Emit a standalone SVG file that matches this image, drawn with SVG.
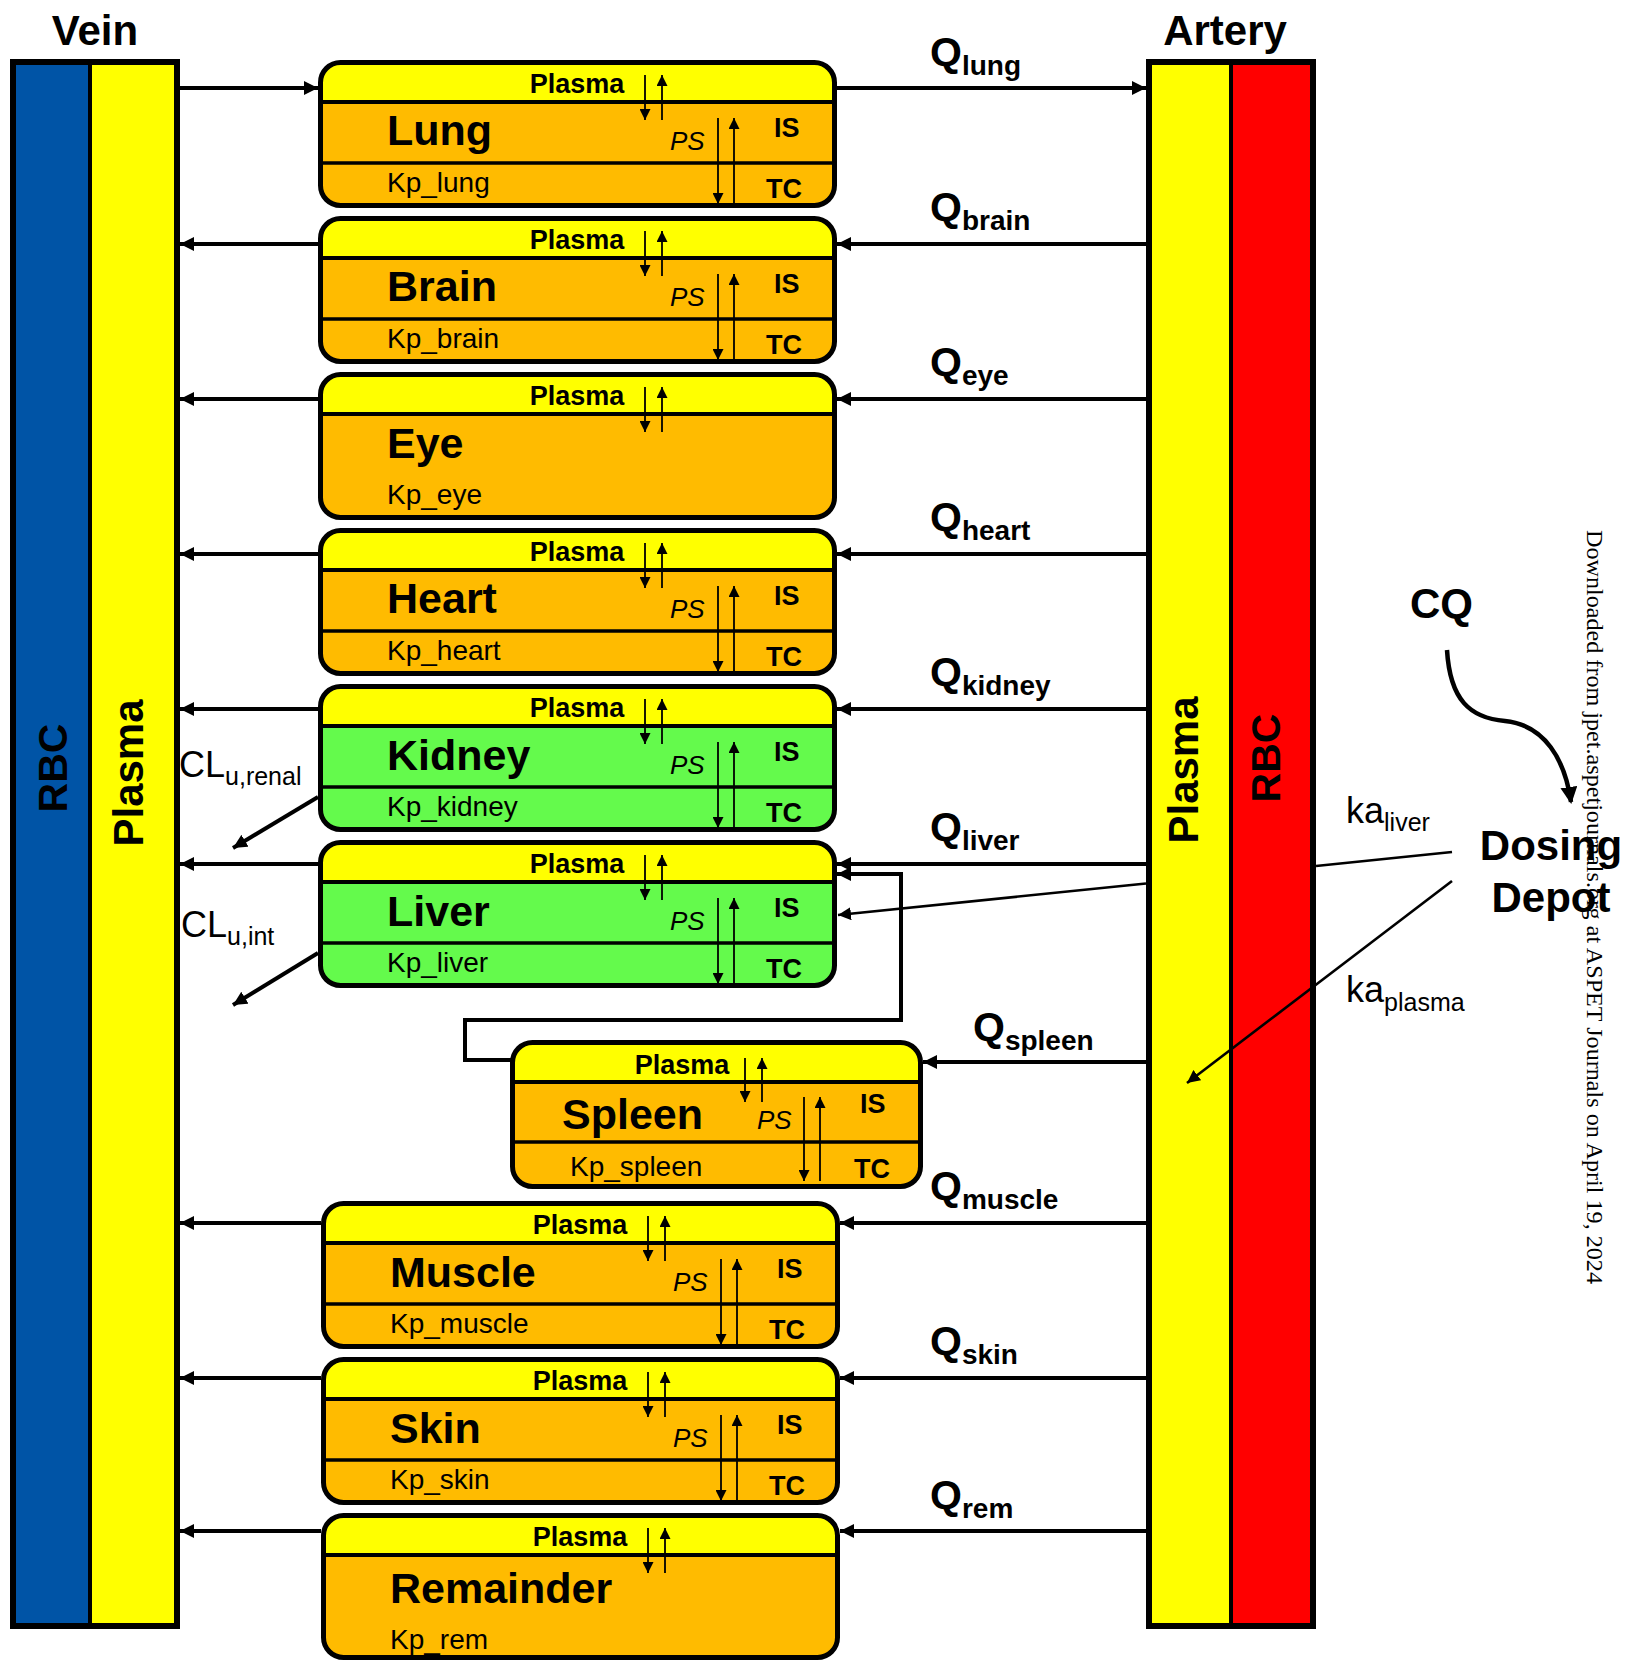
<svg xmlns="http://www.w3.org/2000/svg" width="1628" height="1661" viewBox="0 0 1628 1661">
<defs>
<style>
text{font-family:"Liberation Sans",Arial,sans-serif;fill:#000}
.bx{fill:none;stroke:#000;stroke-width:5}
.org{fill:#FFBB00}
.grn{fill:#64FA4C}
.yel{fill:#FFFF00}
.dv{stroke:#000;stroke-width:4}
.dv2{stroke:#000;stroke-width:3.5}
.tpl{font-weight:bold;font-size:27px;text-anchor:middle}
.tt{font-weight:bold;font-size:43px}
.kp{font-size:28px}
.ps{font-style:italic;font-size:26px}
.is{font-weight:bold;font-size:27px}
.sa{stroke:#000;stroke-width:1.8;marker-end:url(#sm)}
.cn{fill:none;stroke:#000;stroke-width:4;marker-end:url(#ah)}
.ka{fill:none;stroke:#000;stroke-width:2.6}
.kaa{fill:none;stroke:#000;stroke-width:2.6;marker-end:url(#ma)}
.big{font-weight:bold;font-size:42px}
.q{font-weight:bold;font-size:41px}
.qs{font-size:28px}
.vt{font-weight:bold;text-anchor:middle}
</style>
<marker id="ah" markerUnits="userSpaceOnUse" markerWidth="14" markerHeight="14" refX="14" refY="7" orient="auto"><path d="M0,0 L14,7 L0,14 z" fill="#000"/></marker>
<marker id="sm" markerUnits="userSpaceOnUse" markerWidth="11" markerHeight="11" refX="11" refY="5.5" orient="auto"><path d="M0,0 L11,5.5 L0,11 z" fill="#000"/></marker>
<marker id="ma" markerUnits="userSpaceOnUse" markerWidth="13" markerHeight="13" refX="13" refY="6.5" orient="auto"><path d="M0,0 L13,6.5 L0,13 z" fill="#000"/></marker>
<marker id="ch" markerUnits="userSpaceOnUse" markerWidth="17" markerHeight="17" refX="15" refY="8.5" orient="auto"><path d="M0,0 L17,8.5 L0,17 z" fill="#000"/></marker>
</defs>
<rect width="1628" height="1661" fill="#fff"/>

<g id="vein">
<text class="big" x="95" y="45" text-anchor="middle">Vein</text>
<rect x="13" y="62" width="77" height="1564" fill="#0054A6"/>
<rect x="90" y="62" width="87" height="1564" fill="#FFFF00"/>
<line x1="90" y1="62" x2="90" y2="1626" stroke="#000" stroke-width="4"/>
<rect x="13" y="62" width="164" height="1564" fill="none" stroke="#000" stroke-width="6"/>
<text class="vt" font-size="41" transform="translate(52,768) rotate(-90)" x="0" y="15">RBC</text>
<text class="vt" font-size="42" transform="translate(128,773) rotate(-90)" x="0" y="15">Plasma</text>
</g>

<g id="artery">
<text class="big" x="1225" y="45" text-anchor="middle">Artery</text>
<rect x="1149" y="62" width="82" height="1564" fill="#FFFF00"/>
<rect x="1231" y="62" width="82" height="1564" fill="#FF0000"/>
<line x1="1231" y1="62" x2="1231" y2="1626" stroke="#000" stroke-width="4"/>
<rect x="1149" y="62" width="164" height="1564" fill="none" stroke="#000" stroke-width="6"/>
<text class="vt" font-size="42" transform="translate(1183,770) rotate(-90)" x="0" y="15">Plasma</text>
<text class="vt" font-size="41" transform="translate(1265,758) rotate(-90)" x="0" y="15">RBC</text>
</g>

<g id="lung" transform="translate(318,60)">
<rect x="2.5" y="2.5" width="514" height="143" rx="20" class="org"/>
<path d="M2.5,42 V22.5 A20,20 0 0 1 22.5,2.5 H496.5 A20,20 0 0 1 516.5,22.5 V42 Z" class="yel"/>
<line x1="2.5" y1="42" x2="516.5" y2="42" class="dv"/>
<line x1="2.5" y1="103" x2="516.5" y2="103" class="dv2"/>
<rect x="2.5" y="2.5" width="514" height="143" rx="20" class="bx"/>
<text class="tpl" x="259" y="33">Plasma</text>
<line x1="327" y1="15" x2="327" y2="60" class="sa"/><line x1="344" y1="60" x2="344" y2="15" class="sa"/>
<text class="tt" x="69" y="85">Lung</text>
<text class="kp" x="69" y="132">Kp_lung</text>
<text class="ps" x="352" y="90">PS</text>
<line x1="400" y1="58" x2="400" y2="144" class="sa"/><line x1="416" y1="144" x2="416" y2="58" class="sa"/>
<text class="is" x="456" y="77">IS</text>
<text class="is" x="448" y="138">TC</text>
</g>

<g id="brain" transform="translate(318,216)">
<rect x="2.5" y="2.5" width="514" height="143" rx="20" class="org"/>
<path d="M2.5,42 V22.5 A20,20 0 0 1 22.5,2.5 H496.5 A20,20 0 0 1 516.5,22.5 V42 Z" class="yel"/>
<line x1="2.5" y1="42" x2="516.5" y2="42" class="dv"/>
<line x1="2.5" y1="103" x2="516.5" y2="103" class="dv2"/>
<rect x="2.5" y="2.5" width="514" height="143" rx="20" class="bx"/>
<text class="tpl" x="259" y="33">Plasma</text>
<line x1="327" y1="15" x2="327" y2="60" class="sa"/><line x1="344" y1="60" x2="344" y2="15" class="sa"/>
<text class="tt" x="69" y="85">Brain</text>
<text class="kp" x="69" y="132">Kp_brain</text>
<text class="ps" x="352" y="90">PS</text>
<line x1="400" y1="58" x2="400" y2="144" class="sa"/><line x1="416" y1="144" x2="416" y2="58" class="sa"/>
<text class="is" x="456" y="77">IS</text>
<text class="is" x="448" y="138">TC</text>
</g>

<g id="eye" transform="translate(318,372)">
<rect x="2.5" y="2.5" width="514" height="143" rx="20" class="org"/>
<path d="M2.5,42 V22.5 A20,20 0 0 1 22.5,2.5 H496.5 A20,20 0 0 1 516.5,22.5 V42 Z" class="yel"/>
<line x1="2.5" y1="42" x2="516.5" y2="42" class="dv"/>
<rect x="2.5" y="2.5" width="514" height="143" rx="20" class="bx"/>
<text class="tpl" x="259" y="33">Plasma</text>
<line x1="327" y1="15" x2="327" y2="60" class="sa"/><line x1="344" y1="60" x2="344" y2="15" class="sa"/>
<text class="tt" x="69" y="86">Eye</text>
<text class="kp" x="69" y="132">Kp_eye</text>
</g>

<g id="heart" transform="translate(318,528)">
<rect x="2.5" y="2.5" width="514" height="143" rx="20" class="org"/>
<path d="M2.5,42 V22.5 A20,20 0 0 1 22.5,2.5 H496.5 A20,20 0 0 1 516.5,22.5 V42 Z" class="yel"/>
<line x1="2.5" y1="42" x2="516.5" y2="42" class="dv"/>
<line x1="2.5" y1="103" x2="516.5" y2="103" class="dv2"/>
<rect x="2.5" y="2.5" width="514" height="143" rx="20" class="bx"/>
<text class="tpl" x="259" y="33">Plasma</text>
<line x1="327" y1="15" x2="327" y2="60" class="sa"/><line x1="344" y1="60" x2="344" y2="15" class="sa"/>
<text class="tt" x="69" y="85">Heart</text>
<text class="kp" x="69" y="132">Kp_heart</text>
<text class="ps" x="352" y="90">PS</text>
<line x1="400" y1="58" x2="400" y2="144" class="sa"/><line x1="416" y1="144" x2="416" y2="58" class="sa"/>
<text class="is" x="456" y="77">IS</text>
<text class="is" x="448" y="138">TC</text>
</g>

<g id="kidney" transform="translate(318,684)">
<rect x="2.5" y="2.5" width="514" height="143" rx="20" class="grn"/>
<path d="M2.5,42 V22.5 A20,20 0 0 1 22.5,2.5 H496.5 A20,20 0 0 1 516.5,22.5 V42 Z" class="yel"/>
<line x1="2.5" y1="42" x2="516.5" y2="42" class="dv"/>
<line x1="2.5" y1="103" x2="516.5" y2="103" class="dv2"/>
<rect x="2.5" y="2.5" width="514" height="143" rx="20" class="bx"/>
<text class="tpl" x="259" y="33">Plasma</text>
<line x1="327" y1="15" x2="327" y2="60" class="sa"/><line x1="344" y1="60" x2="344" y2="15" class="sa"/>
<text class="tt" x="69" y="86">Kidney</text>
<text class="kp" x="69" y="132">Kp_kidney</text>
<text class="ps" x="352" y="90">PS</text>
<line x1="400" y1="58" x2="400" y2="144" class="sa"/><line x1="416" y1="144" x2="416" y2="58" class="sa"/>
<text class="is" x="456" y="77">IS</text>
<text class="is" x="448" y="138">TC</text>
</g>

<g id="liver" transform="translate(318,840)">
<rect x="2.5" y="2.5" width="514" height="143" rx="20" class="grn"/>
<path d="M2.5,42 V22.5 A20,20 0 0 1 22.5,2.5 H496.5 A20,20 0 0 1 516.5,22.5 V42 Z" class="yel"/>
<line x1="2.5" y1="42" x2="516.5" y2="42" class="dv"/>
<line x1="2.5" y1="103" x2="516.5" y2="103" class="dv2"/>
<rect x="2.5" y="2.5" width="514" height="143" rx="20" class="bx"/>
<text class="tpl" x="259" y="33">Plasma</text>
<line x1="327" y1="15" x2="327" y2="60" class="sa"/><line x1="344" y1="60" x2="344" y2="15" class="sa"/>
<text class="tt" x="69" y="86">Liver</text>
<text class="kp" x="69" y="132">Kp_liver</text>
<text class="ps" x="352" y="90">PS</text>
<line x1="400" y1="58" x2="400" y2="144" class="sa"/><line x1="416" y1="144" x2="416" y2="58" class="sa"/>
<text class="is" x="456" y="77">IS</text>
<text class="is" x="448" y="138">TC</text>
</g>

<g id="spleen" transform="translate(510,1040)">
<rect x="2.5" y="2.5" width="408" height="144" rx="20" class="org"/>
<path d="M2.5,42 V22.5 A20,20 0 0 1 22.5,2.5 H390.5 A20,20 0 0 1 410.5,22.5 V42 Z" class="yel"/>
<line x1="2.5" y1="42" x2="410.5" y2="42" class="dv"/>
<line x1="2.5" y1="102" x2="410.5" y2="102" class="dv2"/>
<rect x="2.5" y="2.5" width="408" height="144" rx="20" class="bx"/>
<text class="tpl" x="172" y="34">Plasma</text>
<line x1="235" y1="18" x2="235" y2="62" class="sa"/><line x1="252" y1="62" x2="252" y2="18" class="sa"/>
<text class="tt" x="52" y="89">Spleen</text>
<text class="kp" x="60" y="136">Kp_spleen</text>
<text class="ps" x="247" y="89">PS</text>
<line x1="294" y1="57" x2="294" y2="141" class="sa"/><line x1="310" y1="141" x2="310" y2="57" class="sa"/>
<text class="is" x="350" y="73">IS</text>
<text class="is" x="344" y="138">TC</text>
</g>

<g id="muscle" transform="translate(321,1201)">
<rect x="2.5" y="2.5" width="514" height="143" rx="20" class="org"/>
<path d="M2.5,42 V22.5 A20,20 0 0 1 22.5,2.5 H496.5 A20,20 0 0 1 516.5,22.5 V42 Z" class="yel"/>
<line x1="2.5" y1="42" x2="516.5" y2="42" class="dv"/>
<line x1="2.5" y1="103" x2="516.5" y2="103" class="dv2"/>
<rect x="2.5" y="2.5" width="514" height="143" rx="20" class="bx"/>
<text class="tpl" x="259" y="33">Plasma</text>
<line x1="327" y1="15" x2="327" y2="60" class="sa"/><line x1="344" y1="60" x2="344" y2="15" class="sa"/>
<text class="tt" x="69" y="86">Muscle</text>
<text class="kp" x="69" y="132">Kp_muscle</text>
<text class="ps" x="352" y="90">PS</text>
<line x1="400" y1="58" x2="400" y2="144" class="sa"/><line x1="416" y1="144" x2="416" y2="58" class="sa"/>
<text class="is" x="456" y="77">IS</text>
<text class="is" x="448" y="138">TC</text>
</g>

<g id="skin" transform="translate(321,1357)">
<rect x="2.5" y="2.5" width="514" height="143" rx="20" class="org"/>
<path d="M2.5,42 V22.5 A20,20 0 0 1 22.5,2.5 H496.5 A20,20 0 0 1 516.5,22.5 V42 Z" class="yel"/>
<line x1="2.5" y1="42" x2="516.5" y2="42" class="dv"/>
<line x1="2.5" y1="103" x2="516.5" y2="103" class="dv2"/>
<rect x="2.5" y="2.5" width="514" height="143" rx="20" class="bx"/>
<text class="tpl" x="259" y="33">Plasma</text>
<line x1="327" y1="15" x2="327" y2="60" class="sa"/><line x1="344" y1="60" x2="344" y2="15" class="sa"/>
<text class="tt" x="69" y="86">Skin</text>
<text class="kp" x="69" y="132">Kp_skin</text>
<text class="ps" x="352" y="90">PS</text>
<line x1="400" y1="58" x2="400" y2="144" class="sa"/><line x1="416" y1="144" x2="416" y2="58" class="sa"/>
<text class="is" x="456" y="77">IS</text>
<text class="is" x="448" y="138">TC</text>
</g>

<g id="remainder" transform="translate(321,1513)">
<rect x="2.5" y="2.5" width="514" height="142" rx="20" class="org"/>
<path d="M2.5,42 V22.5 A20,20 0 0 1 22.5,2.5 H496.5 A20,20 0 0 1 516.5,22.5 V42 Z" class="yel"/>
<line x1="2.5" y1="42" x2="516.5" y2="42" class="dv"/>
<rect x="2.5" y="2.5" width="514" height="142" rx="20" class="bx"/>
<text class="tpl" x="259" y="33">Plasma</text>
<line x1="327" y1="15" x2="327" y2="60" class="sa"/><line x1="344" y1="60" x2="344" y2="15" class="sa"/>
<text class="tt" x="69" y="90">Remainder</text>
<text class="kp" x="69" y="136">Kp_rem</text>
</g>

<g id="dosing-depot">
<text class="big" x="1410" y="618">CQ</text>
<text class="big" x="1551" y="860" text-anchor="middle">Dosing</text>
<text class="big" x="1551" y="912" text-anchor="middle">Depot</text>
</g>

<g id="connectors">
<line x1="180" y1="88" x2="318" y2="88" class="cn"/>
<line x1="837" y1="88" x2="1146" y2="88" class="cn"/>
<line x1="318" y1="244" x2="180" y2="244" class="cn"/>
<line x1="318" y1="399" x2="180" y2="399" class="cn"/>
<line x1="318" y1="554" x2="180" y2="554" class="cn"/>
<line x1="318" y1="709" x2="180" y2="709" class="cn"/>
<line x1="318" y1="864" x2="180" y2="864" class="cn"/>
<line x1="321" y1="1223" x2="180" y2="1223" class="cn"/>
<line x1="321" y1="1378" x2="180" y2="1378" class="cn"/>
<line x1="321" y1="1531" x2="180" y2="1531" class="cn"/>
<line x1="1146" y1="244" x2="837" y2="244" class="cn"/>
<line x1="1146" y1="399" x2="837" y2="399" class="cn"/>
<line x1="1146" y1="554" x2="837" y2="554" class="cn"/>
<line x1="1146" y1="709" x2="837" y2="709" class="cn"/>
<line x1="1146" y1="864" x2="837" y2="864" class="cn"/>
<line x1="1146" y1="1062" x2="923" y2="1062" class="cn"/>
<line x1="1146" y1="1223" x2="840" y2="1223" class="cn"/>
<line x1="1146" y1="1378" x2="840" y2="1378" class="cn"/>
<line x1="1146" y1="1531" x2="840" y2="1531" class="cn"/>
<path d="M512,1060 H465 V1020 H901 V874 H837" class="cn"/>
<line x1="318" y1="797" x2="233" y2="848" class="cn"/>
<line x1="318" y1="953" x2="233" y2="1005" class="cn"/>
<line x1="1452" y1="852" x2="1316" y2="866" class="ka"/>
<line x1="1146" y1="883.5" x2="838" y2="915" class="kaa"/>
<line x1="1452" y1="881" x2="1187" y2="1083" class="kaa"/>
<path d="M1447,650 C1450,700 1470,718 1505,721 C1545,725 1565,760 1571,802" fill="none" stroke="#000" stroke-width="4.5" marker-end="url(#ch)"/>
</g>

<g id="labels">
<text class="q" x="930" y="66">Q<tspan class="qs" dy="9">lung</tspan></text>
<text class="q" x="930" y="221">Q<tspan class="qs" dy="9">brain</tspan></text>
<text class="q" x="930" y="376">Q<tspan class="qs" dy="9">eye</tspan></text>
<text class="q" x="930" y="531">Q<tspan class="qs" dy="9">heart</tspan></text>
<text class="q" x="930" y="686">Q<tspan class="qs" dy="9">kidney</tspan></text>
<text class="q" x="930" y="841">Q<tspan class="qs" dy="9">liver</tspan></text>
<text class="q" x="973" y="1041">Q<tspan class="qs" dy="9">spleen</tspan></text>
<text class="q" x="930" y="1200">Q<tspan class="qs" dy="9">muscle</tspan></text>
<text class="q" x="930" y="1355">Q<tspan class="qs" dy="9">skin</tspan></text>
<text class="q" x="930" y="1509">Q<tspan class="qs" dy="9">rem</tspan></text>
<text x="179" y="777" font-size="36">CL<tspan font-size="25" dy="8">u,renal</tspan></text>
<text x="181" y="937" font-size="36">CL<tspan font-size="25" dy="8">u,int</tspan></text>
<text x="1346" y="823" font-size="36">ka<tspan font-size="25" dy="8">liver</tspan></text>
<text x="1346" y="1002" font-size="36">ka<tspan font-size="25" dy="9">plasma</tspan></text>
<text transform="translate(1594,530) rotate(90)" x="0" y="7.5" style="font-family:'Liberation Serif','Times New Roman',serif;font-size:23px" textLength="754" lengthAdjust="spacingAndGlyphs">Downloaded from jpet.aspetjournals.org at ASPET Journals on April 19, 2024</text>
</g>
</svg>
